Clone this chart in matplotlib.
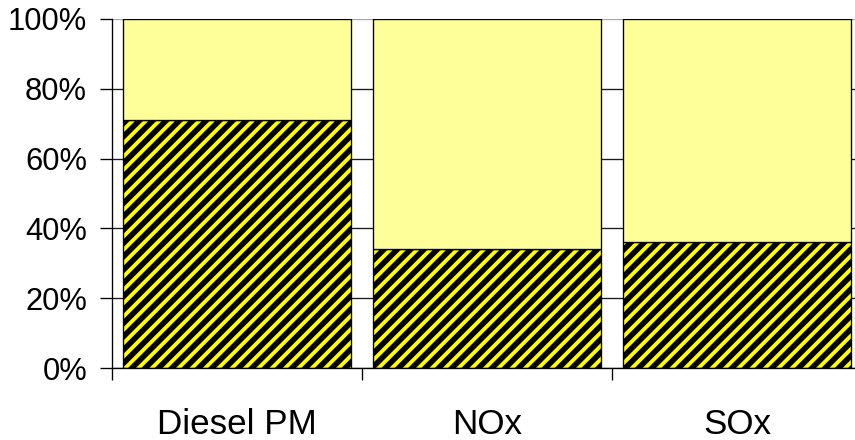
import matplotlib
matplotlib.use("Agg")
import matplotlib.pyplot as plt
from matplotlib.ticker import FuncFormatter

categories = ["Diesel PM", "NOx", "SOx"]
lower_share = [71.1, 34.2, 36.2]
upper_share = [100 - v for v in lower_share]

plt.rcParams["font.family"] = ["Liberation Sans", "DejaVu Sans"]
plt.rcParams["hatch.linewidth"] = 2.3
plt.rcParams["hatch.color"] = "#ffff00"

# hatch pitch depends on dpi; 120 dpi with "///" matches the original stripes
DPI = 120
fig = plt.figure(figsize=(855 / DPI, 440 / DPI), dpi=DPI)
# plot area runs past the right edge of the figure, as in the original
ax = fig.add_axes([112 / 855, 1 - 368 / 440, 750 / 855, 349 / 440])

x = [i + 0.5 for i in range(len(categories))]
width = 0.91

ax.bar(x, lower_share, width, color="black", edgecolor="#ffff00",
       hatch="///", linewidth=0, zorder=2)
ax.bar(x, lower_share, width, fill=False, edgecolor="black",
       linewidth=0.8, zorder=3)
ax.bar(x, upper_share, width, bottom=lower_share, color="#ffff99",
       edgecolor="black", linewidth=0.8, zorder=3)

ax.set_xlim(0, 3)
ax.set_ylim(0, 100)
ax.set_yticks(range(0, 101, 20))
ax.yaxis.set_major_formatter(FuncFormatter(lambda v, _: f"{v:.0f}%"))
ax.grid(axis="y", color="#1a1a1a", linewidth=0.8, zorder=0)
ax.get_ygridlines()[-1].set_color("#a8a8a8")
ax.set_axisbelow(True)

ax.set_xticks([0, 1, 2, 3])
ax.set_xticklabels([])
ax.set_xticks(x, minor=True)
ax.set_xticklabels(categories, minor=True)
ax.tick_params(axis="x", which="major", direction="out", length=7, width=0.8)
ax.tick_params(axis="x", which="minor", length=0, pad=24, labelsize=21)
ax.tick_params(axis="y", direction="out", length=7, width=0.8, pad=8,
               labelsize=18.5)

for side in ("top", "right"):
    ax.spines[side].set_visible(False)
ax.spines["left"].set_linewidth(0.8)
ax.spines["bottom"].set_linewidth(0.8)

fig.savefig("out.png", dpi=DPI)
